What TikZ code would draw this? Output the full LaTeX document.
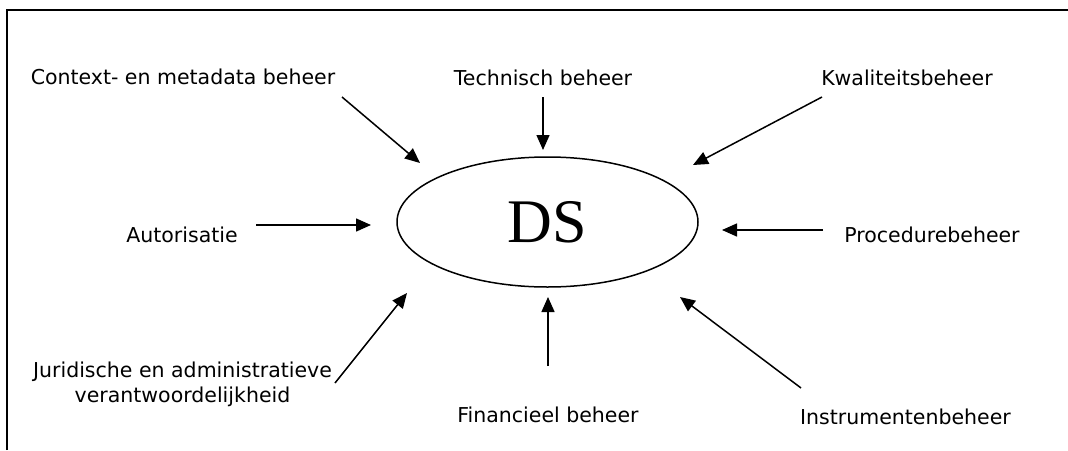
\documentclass[tikz,border=0pt]{standalone}
\usepackage{fontspec}
\newfontfamily\labfont{DejaVu Sans}
\newfontfamily\dsfont{Liberation Serif}
\usetikzlibrary{arrows.meta,shapes.geometric}
\tikzset{
  lab/.style={font=\labfont\fontsize{20.5}{25}\selectfont, inner sep=0pt, anchor=base, align=center},
  arr/.style={line width=1.5pt, -{Triangle[length=15pt,width=13pt]}},
  frame/.style={line width=2.2pt}
}
\begin{document}
\begin{tikzpicture}[x=1pt,y=-1pt]
\useasboundingbox (0,0) rectangle (1068,450);
\draw[frame] (7,450) -- (7,10) -- (1068,10);
\node[ellipse, draw, line width=1.5pt, minimum width=301pt, minimum height=130pt, inner sep=0pt,
      font=\dsfont\fontsize{62}{62}\selectfont] (ds) at (547.5,222) {DS};
% labels
\node[lab] (ctx) at (183,84) {Context- en metadata beheer};
\node[lab] (tech) at (543,85) {Technisch beheer};
\node[lab] (kwal) at (907,85) {Kwaliteitsbeheer};
\node[lab] (aut) at (182,242.5) {Autorisatie};
\node[lab] (proc) at (932,242.5) {Procedurebeheer};
\node[lab] (jur) at (182.5,402) {Juridische en administratieve\\verantwoordelijkheid};
\node[lab] (fin) at (548,422) {Financieel beheer};
\node[lab] (instr) at (905.5,424) {Instrumentenbeheer};
% arrow end points
\coordinate (ctxS) at (342,97);   \coordinate (ctxE) at (420,163);
\coordinate (techS) at (543,97);  \coordinate (techE) at (543,150);
\coordinate (kwalS) at (822,97);  \coordinate (kwalE) at (693,165);
\coordinate (autS) at (256,225);  \coordinate (autE) at (371,225);
\coordinate (procS) at (823,230); \coordinate (procE) at (722,230);
\coordinate (jurS) at (335,383);  \coordinate (jurE) at (407,293);
\coordinate (finS) at (548,366);  \coordinate (finE) at (548,297);
\coordinate (instrS) at (801,388);\coordinate (instrE) at (680,297);
\draw[arr] (ctxS) -- (ctxE);
\draw[arr] (techS) -- (techE);
\draw[arr] (kwalS) -- (kwalE);
\draw[arr] (autS) -- (autE);
\draw[arr] (procS) -- (procE);
\draw[arr] (jurS) -- (jurE);
\draw[arr] (finS) -- (finE);
\draw[arr] (instrS) -- (instrE);
\end{tikzpicture}
\end{document}
